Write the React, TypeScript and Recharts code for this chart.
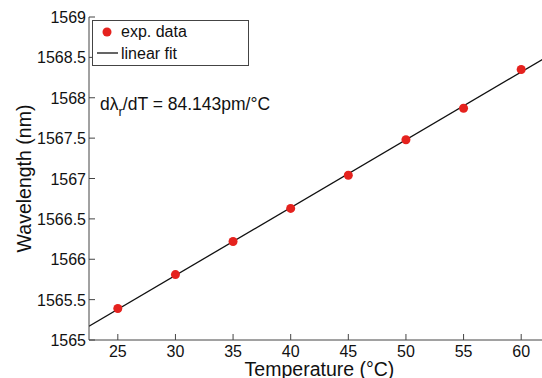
import React from 'react';
import { ComposedChart, Scatter, Line, XAxis, YAxis, Legend, Customized } from 'recharts';

const temperatures = [25, 30, 35, 40, 45, 50, 55, 60];
const wavelengths = [1565.39, 1565.81, 1566.22, 1566.63, 1567.04, 1567.48, 1567.87, 1568.35];
const fitTemps = [22.5, 62.5];
const fitWavelengths = [1565.17, 1568.53];
const xTicks = [25, 30, 35, 40, 45, 50, 55, 60];
const yTicks = [1565, 1565.5, 1566, 1566.5, 1567, 1567.5, 1568, 1568.5, 1569];

const expData = temperatures.map((t, i) => ({ t, wl: wavelengths[i] }));
const fitData = fitTemps.map((t, i) => ({ t, fit: fitWavelengths[i] }));

const FONT = '"Liberation Sans", Arial, sans-serif';
const AXIS = '#444';
const RED = '#e5221e';

const BottomTick = (props: any) => {
  const { x, y, payload } = props;
  return (
    <g>
      <line x1={x} y1={y} x2={x} y2={y - 6} stroke={AXIS} />
      <text x={x} y={y + 17} textAnchor="middle" fontSize={16} fontFamily={FONT} fill="#111">
        {payload.value}
      </text>
    </g>
  );
};

const LeftTick = (props: any) => {
  const { x, y, payload } = props;
  return (
    <g>
      <line x1={x} y1={y} x2={x + 6} y2={y} stroke={AXIS} />
      <text x={x - 3} y={y + 6} textAnchor="end" fontSize={16} fontFamily={FONT} fill="#111">
        {payload.value}
      </text>
    </g>
  );
};

const TopTick = (props: any) => {
  const { x, y } = props;
  return <line x1={x} y1={y} x2={x} y2={y + 6} stroke={AXIS} />;
};

const RightTick = (props: any) => {
  const { x, y } = props;
  return <line x1={x} y1={y} x2={x - 6} y2={y} stroke={AXIS} />;
};

const XTitle = (props: any) => {
  const { viewBox } = props;
  return (
    <text x={viewBox.x + viewBox.width / 2} y={376} textAnchor="middle" fontSize={19.5} fontFamily={FONT} fill="#111">
      Temperature (°C)
    </text>
  );
};

const YTitle = (props: any) => {
  const { viewBox } = props;
  const cy = viewBox.y + viewBox.height / 2;
  return (
    <text x={31} y={cy} transform={`rotate(-90, 31, ${cy})`} textAnchor="middle" fontSize={19.5} fontFamily={FONT} fill="#111">
      Wavelength (nm)
    </text>
  );
};

const Dot = (props: any) => {
  const { cx, cy } = props;
  return <circle cx={cx} cy={cy} r={4.5} fill={RED} />;
};

const LegendBox = () => (
  <svg width={158} height={47}>
    <rect x={0.5} y={0.5} width={156} height={45} fill="#fff" stroke={AXIS} />
    <circle cx={15} cy={12} r={4.5} fill={RED} />
    <text x={29} y={17} fontSize={16} fontFamily={FONT} fill="#111">exp. data</text>
    <line x1={5} y1={33} x2={26} y2={33} stroke="#111" strokeWidth={1.3} />
    <text x={29} y={39} fontSize={16} fontFamily={FONT} fill="#111">linear fit</text>
  </svg>
);

const Annotation = () => (
  <text x={100} y={110} fontSize={17.5} fontFamily={FONT} fill="#111">
    dλ<tspan fontSize={13} dy={6}>r</tspan>
    <tspan dy={-6}>/dT = 84.143pm/°C</tspan>
  </text>
);

export default function App() {
  return (
    <div style={{ position: 'absolute', left: 0, top: 0, width: 542, height: 378, overflow: 'hidden', background: '#fff' }}>
      <ComposedChart width={560} height={378} margin={{ top: 17, right: 10, bottom: 0, left: 0 }}>
        <XAxis
          xAxisId="bottom"
          type="number"
          dataKey="t"
          domain={[22.5, 62.5]}
          ticks={xTicks}
          height={38}
          tickSize={0}
          tickMargin={0}
          tick={<BottomTick />}
          stroke={AXIS}
          allowDataOverflow
          label={<XTitle />}
        />
        <XAxis
          xAxisId="top"
          orientation="top"
          type="number"
          dataKey="t"
          domain={[22.5, 62.5]}
          ticks={xTicks}
          height={0}
          tickSize={0}
          tick={<TopTick />}
          stroke={AXIS}
          allowDataOverflow
        />
        <YAxis
          yAxisId="left"
          type="number"
          domain={[1565, 1569]}
          ticks={yTicks}
          width={89}
          tickSize={0}
          tickMargin={0}
          tick={<LeftTick />}
          stroke={AXIS}
          allowDataOverflow
          label={<YTitle />}
        />
        <YAxis
          yAxisId="right"
          orientation="right"
          type="number"
          domain={[1565, 1569]}
          ticks={yTicks}
          width={0}
          tickSize={0}
          tick={<RightTick />}
          stroke={AXIS}
          allowDataOverflow
        />
        <Line
          xAxisId="bottom"
          yAxisId="left"
          data={fitData}
          dataKey="fit"
          type="linear"
          stroke="#111"
          strokeWidth={1.3}
          dot={false}
          isAnimationActive={false}
        />
        <Scatter
          xAxisId="bottom"
          yAxisId="left"
          data={expData}
          dataKey="wl"
          shape={<Dot />}
          isAnimationActive={false}
        />
        <Customized component={Annotation} />
        <Legend
          layout="vertical"
          align="center"
          verticalAlign="middle"
          content={<LegendBox />}
          wrapperStyle={{ top: 20, left: 92, width: 158, height: 47 }}
        />
      </ComposedChart>
    </div>
  );
}
